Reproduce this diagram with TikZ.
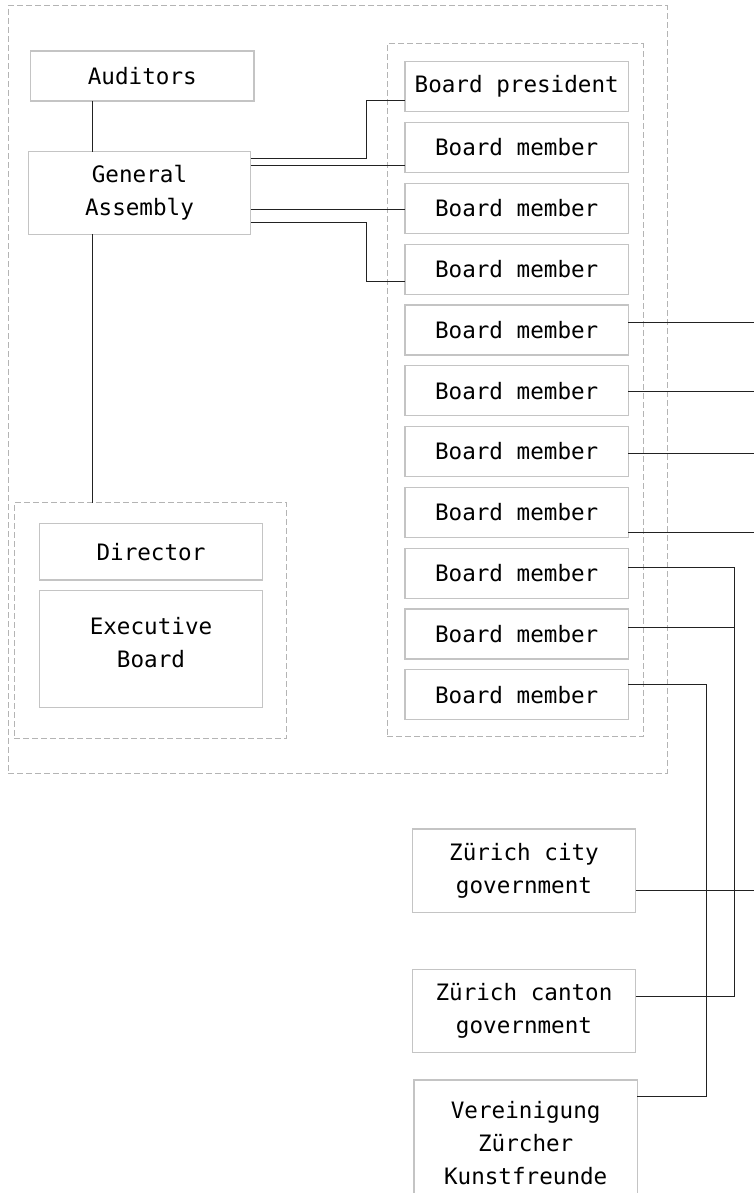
\documentclass[tikz,border=0pt]{standalone}
\usepackage{fontspec}
\usepackage{tikz}

\newfontfamily\orgfont{DejaVu Sans Mono}

\definecolor{boxgray}{HTML}{C4C4C4}
\definecolor{dashgray}{HTML}{B4B4B4}
\definecolor{wiregray}{HTML}{222222}

\tikzset{
  orgbox/.style={draw=boxgray, line width=1.2pt, fill=white, outer sep=0pt,
    minimum width=223.4pt, minimum height=50pt, align=center, inner sep=0pt,
    font=\orgfont\fontsize{22.6}{33}\selectfont, text=black},
  dashframe/.style={draw=dashgray, line width=1pt, dash pattern=on 6pt off 3pt,
    outer sep=0pt, inner sep=0pt},
  wire/.style={draw=wiregray, line width=0.9pt}
}

\begin{document}
\begin{tikzpicture}[x=1pt, y=-1pt]

\useasboundingbox (0,0) rectangle (754,1193);
\clip (0,0) rectangle (754,1193);

% dashed groupings
\node[dashframe, minimum width=659pt, minimum height=767pt] (assoc) at (337.5,389.5) {};
\node[dashframe, minimum width=256pt, minimum height=692.7pt] (board) at (515.3,390.3) {};
\node[dashframe, minimum width=272.4pt, minimum height=235.6pt] (mgmt) at (150.5,620.5) {};

\node[orgbox] (aud) at (142.3,76) {Auditors};
\node[orgbox, minimum width=222.4pt, minimum height=82.6pt] (ga) at (139.5,193) {General\\Assembly};

\node[orgbox, minimum height=56.7pt] (dir) at (151,551.7) {Director};
\node[orgbox, minimum height=117pt] (exb) at (151,648.8) {};
\node[font=\orgfont\fontsize{22.6}{33}\selectfont, align=center, inner sep=0pt] (exbtext) at (151,642.5) {Executive\\Board};

\node[orgbox] (bpres) at (516.7,86.7) {Board president};
\node[orgbox] (bm1) at (516.7,147.5) {Board member};
\node[orgbox] (bm2) at (516.7,208.3) {Board member};
\node[orgbox] (bm3) at (516.7,269.1) {Board member};
\node[orgbox] (bm4) at (516.7,329.9) {Board member};
\node[orgbox] (bm5) at (516.7,390.7) {Board member};
\node[orgbox] (bm6) at (516.7,451.5) {Board member};
\node[orgbox] (bm7) at (516.7,512.3) {Board member};
\node[orgbox] (bm8) at (516.7,573.1) {Board member};
\node[orgbox] (bm9) at (516.7,633.9) {Board member};
\node[orgbox] (bm10) at (516.7,694.7) {Board member};

\node[orgbox, minimum height=83.3pt] (city) at (524,870.7) {Zürich city\\government};
\node[orgbox, minimum height=83pt] (canton) at (524,1010.8) {Zürich canton\\government};
\node[orgbox, minimum height=126pt] (vzk) at (525.7,1143) {Vereinigung\\Zürcher\\Kunstfreunde};

\coordinate (spine) at (92.3,0);

% assembly: auditors above, management below
\draw[wire] (aud.south -| spine) -- (ga.north -| spine);
\draw[wire] (ga.south -| spine) -- (mgmt.north -| spine);

% members elected by the assembly
\draw[wire] ([yshift=-6.6pt]ga.north east) -- ++(116,0) |- ([yshift=-13.3pt]bpres.west);
\draw[wire] ([yshift=-13.3pt]ga.north east) -- ([yshift=-17.5pt]bm1.west);
\draw[wire] ([yshift=-57.6pt]ga.north east) -- ([yshift=-1pt]bm2.west);
\draw[wire] ([yshift=-71pt]ga.north east) -- ++(116,0) |- ([yshift=-11.9pt]bm3.west);

% delegated members
\draw[wire] ([yshift=7.6pt]bm4.east) -- ++(132,0);
\draw[wire] ([yshift=-1pt]bm5.east) -- ++(132,0);
\draw[wire] ([yshift=-1.8pt]bm6.east) -- ++(132,0);
\draw[wire] ([yshift=-20.4pt]bm7.east) -- ++(132,0);
\draw[wire] ([yshift=-19.3pt]city.east) -- ++(132,0);

\draw[wire] ([yshift=14pt]canton.east) -- ++(98.3,0) |- ([yshift=5.4pt]bm8.east);
\draw[wire] ([yshift=6.6pt]bm9.east) -- ++(105.7,0);
\draw[wire] ([yshift=-16.7pt]vzk.north east) -- ++(69.4,0) |- ([yshift=10.4pt]bm10.east);

\end{tikzpicture}
\end{document}
